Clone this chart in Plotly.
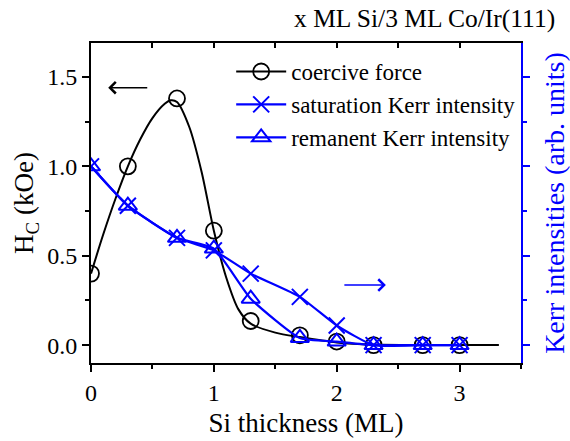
import plotly.graph_objects as go

# ---- data ----
si_thickness = [0.0, 0.3, 0.7, 1.0, 1.3, 1.7, 2.0, 2.3, 2.7, 3.0]
coercive_force = [0.40, 1.00, 1.38, 0.64, 0.135, 0.055, 0.02, 0.0, 0.0, 0.0]
saturation_kerr = [1.00, 0.78, 0.60, 0.53, 0.40, 0.27, 0.11, 0.0, 0.0, 0.0]
remanent_kerr = [1.00, 0.78, 0.60, 0.54, 0.26, 0.04, 0.02, 0.0, 0.0, 0.0]

# smooth guide curve through the coercive force data
fit_x = [0.0, 0.1, 0.2, 0.3, 0.4, 0.5, 0.6, 0.65, 0.7, 0.8, 0.9, 1.0, 1.1, 1.2, 1.3, 1.5, 1.7, 2.0, 2.3, 2.7, 3.32]
fit_y = [0.40, 0.62, 0.82, 1.00, 1.15, 1.27, 1.35, 1.37, 1.36, 1.22, 0.97, 0.64, 0.38, 0.20, 0.12, 0.07, 0.045, 0.015, 0.003, 0.0, 0.0]

title_text = "x ML Si/3 ML Co/Ir(111)"
x_title = "Si thickness (ML)"
y_title = "H<sub>C</sub> (kOe)"
y2_title = "Kerr intensities (arb. units)"
x_ticks = [0, 1, 2, 3]
y_ticks = [0.0, 0.5, 1.0, 1.5]
y_ticklabels = ["0.0", "0.5", "1.0", "1.5"]

FONT = "'Liberation Serif', 'Times New Roman', 'DejaVu Serif', serif"
BLUE = "#0000ff"
YR = [-0.1, 1.69]
XR = [0, 3.5]

fig = go.Figure()

fig.add_trace(go.Scatter(x=fit_x, y=fit_y, mode="lines", line=dict(color="black", width=2, shape="spline", smoothing=0.8),
                         showlegend=False, hoverinfo="skip"))
fig.add_trace(go.Scatter(x=si_thickness, y=coercive_force, mode="markers",
                         marker=dict(symbol="circle-open", size=16, color="black", line=dict(width=1.8)),
                         showlegend=False))
fig.add_trace(go.Scatter(x=[None], y=[None], mode="lines+markers", name="coercive force",
                         line=dict(color="black", width=1.8),
                         marker=dict(symbol="circle-open", size=16, color="black", line=dict(width=1.8))))
fig.add_trace(go.Scatter(x=si_thickness, y=saturation_kerr, mode="lines+markers", name="saturation Kerr intensity",
                         yaxis="y2",
                         line=dict(color=BLUE, width=2.2, shape="spline", smoothing=0.5),
                         marker=dict(symbol="x-thin-open", size=16, color=BLUE, line=dict(width=2, color=BLUE))))
fig.add_trace(go.Scatter(x=si_thickness, y=remanent_kerr, mode="lines+markers", name="remanent Kerr intensity",
                         yaxis="y2",
                         line=dict(color=BLUE, width=2.2, shape="spline", smoothing=0.5),
                         marker=dict(symbol="triangle-up-open", size=16, color=BLUE, line=dict(width=2, color=BLUE))))
# dummy trace to activate the top axis
fig.add_trace(go.Scatter(x=[None], y=[None], xaxis="x2", showlegend=False, hoverinfo="skip"))

tickfont = dict(family=FONT, size=24, color="black")

fig.update_layout(
    width=570, height=441,
    margin=dict(l=91, r=49, t=43, b=78),
    paper_bgcolor="white", plot_bgcolor="white",
    font=dict(family=FONT, color="black"),
    showlegend=True,
    legend=dict(x=0.326, y=0.978, xanchor="left", yanchor="top", bgcolor="rgba(0,0,0,0)",
                font=dict(family=FONT, size=23), tracegroupgap=0, itemwidth=50),
    xaxis=dict(range=XR, tickvals=x_ticks, ticks="outside", ticklen=7, tickwidth=1.8, tickcolor="black",
               showline=True, linecolor="black", linewidth=1.8, showgrid=False, zeroline=False,
               tickfont=tickfont, automargin=False,
               minor=dict(dtick=0.5, ticks="outside", ticklen=4, tickwidth=1.8, tickcolor="black"),
               title=dict(text=x_title, font=dict(family=FONT, size=27), standoff=8)),
    xaxis2=dict(range=XR, overlaying="x", side="top", dtick=0.5, ticks="inside", ticklen=5, tickwidth=1.8,
                tickcolor="black", showline=True, linecolor="black", linewidth=1.8, showticklabels=False,
                showgrid=False, zeroline=False, automargin=False),
    yaxis=dict(range=YR, tickvals=y_ticks, ticktext=y_ticklabels, ticks="outside", ticklen=7, tickwidth=1.8,
               tickcolor="black", showline=True, linecolor="black", linewidth=1.8, showgrid=False, zeroline=False,
               tickfont=tickfont, automargin=False,
               minor=dict(dtick=0.25, ticks="outside", ticklen=4, tickwidth=1.8, tickcolor="black"),
               title=dict(text=y_title, font=dict(family=FONT, size=27), standoff=6)),
    yaxis2=dict(range=YR, overlaying="y", side="right", tickvals=y_ticks, ticks="outside", ticklen=7,
                tickwidth=1.8, tickcolor=BLUE, showline=True, linecolor=BLUE, linewidth=1.8,
                showticklabels=False, showgrid=False, zeroline=False, automargin=False,
                minor=dict(dtick=0.25, ticks="outside", ticklen=4, tickwidth=1.8, tickcolor=BLUE),
                title=dict(text=y2_title, font=dict(family=FONT, size=28, color=BLUE), standoff=21)),
)

fig.add_annotation(text=title_text, xref="paper", yref="paper", x=1.084, y=1.078, xanchor="right",
                   yanchor="middle", showarrow=False, font=dict(family=FONT, size=25.5, color="black"))

# direction arrows
fig.add_annotation(x=0.14, y=1.44, ax=0.47, ay=1.44, xref="x", yref="y", axref="x", ayref="y",
                   text="", showarrow=True, arrowhead=4, arrowsize=1.6, arrowwidth=1.4, arrowcolor="black")
fig.add_annotation(x=2.40, y=0.336, ax=2.05, ay=0.336, xref="x", yref="y", axref="x", ayref="y",
                   text="", showarrow=True, arrowhead=4, arrowsize=1.6, arrowwidth=1.4, arrowcolor=BLUE)

fig.write_html("out.html")
